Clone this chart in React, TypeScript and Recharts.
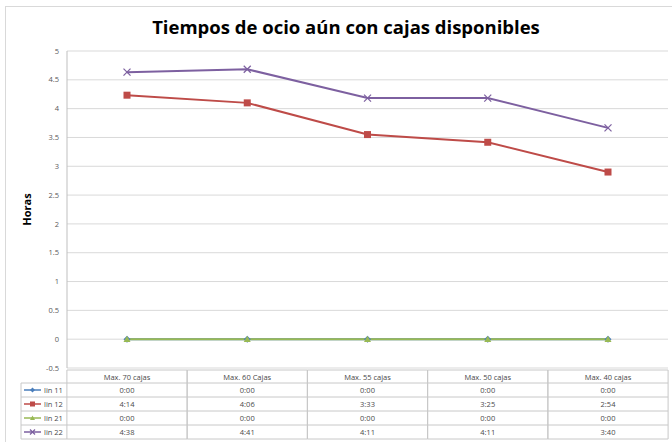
import React from "react";
import { CartesianGrid, Line, LineChart, XAxis, YAxis } from "recharts";

// Tiempos de ocio por escenario (h:mm), tal como aparecen en la tabla
const categories = ["Max. 70 cajas", "Max. 60 Cajas", "Max. 55 cajas", "Max. 50 cajas", "Max. 40 cajas"];
const lin11 = ["0:00", "0:00", "0:00", "0:00", "0:00"];
const lin12 = ["4:14", "4:06", "3:33", "3:25", "2:54"];
const lin21 = ["0:00", "0:00", "0:00", "0:00", "0:00"];
const lin22 = ["4:38", "4:41", "4:11", "4:11", "3:40"];
const yTicks = [-0.5, 0, 0.5, 1, 1.5, 2, 2.5, 3, 3.5, 4, 4.5, 5];

const FONT = "'Open Sans', 'DejaVu Sans', sans-serif";
const TXT = "#4a4a4a";

const toHours = (t: string) => {
  const [h, m] = t.split(":").map(Number);
  return h + m / 60;
};

type Marker = "diamond" | "square" | "triangle" | "x";

const series: { key: string; label: string; color: string; marker: Marker; times: string[] }[] = [
  { key: "lin11", label: "lin 11", color: "#4a7ebb", marker: "diamond", times: lin11 },
  { key: "lin12", label: "lin 12", color: "#be4b48", marker: "square", times: lin12 },
  { key: "lin21", label: "lin 21", color: "#98b954", marker: "triangle", times: lin21 },
  { key: "lin22", label: "lin 22", color: "#7d60a0", marker: "x", times: lin22 },
];

const data = categories.map((cat, i) => {
  const row: Record<string, string | number> = { cat };
  series.forEach((s) => (row[s.key] = toHours(s.times[i])));
  return row;
});

function MarkerShape({ cx, cy, color, marker, r = 3.5 }: { cx: number; cy: number; color: string; marker: Marker; r?: number }) {
  if (cx == null || cy == null) return null;
  if (marker === "square") return <rect x={cx - r} y={cy - r} width={r * 2} height={r * 2} fill={color} />;
  if (marker === "diamond")
    return <polygon points={`${cx},${cy - r} ${cx + r},${cy} ${cx},${cy + r} ${cx - r},${cy}`} fill={color} />;
  if (marker === "triangle")
    return <polygon points={`${cx},${cy - r} ${cx + r},${cy + r * 0.8} ${cx - r},${cy + r * 0.8}`} fill={color} />;
  return (
    <g stroke={color} strokeWidth={1.2}>
      <line x1={cx - r} y1={cy - r} x2={cx + r} y2={cy + r} />
      <line x1={cx - r} y1={cy + r} x2={cx + r} y2={cy - r} />
    </g>
  );
}

const GRID = "#c8c8c8";
const ROW_LINES = [0, 13, 27, 41, 55, 69];

function TableTick(props: any) {
  const { x, y, payload, index } = props;
  const half = 60.1;
  const left = x - half;
  const right = x + half;
  return (
    <g fontFamily={FONT} fontSize={7.5}>
      {ROW_LINES.map((d) => (
        <line key={d} x1={left} x2={right} y1={y + d} y2={y + d} stroke={GRID} />
      ))}
      <line x1={left} x2={left} y1={y} y2={y + 69} stroke={GRID} />
      <line x1={right} x2={right} y1={y} y2={y + 69} stroke={GRID} />
      <text x={x} y={y + 9.5} textAnchor="middle" fill={TXT} stroke="none">
        {payload.value}
      </text>
      {series.map((s, r) => (
        <text key={s.key} x={x} y={y + 23 + r * 14} textAnchor="middle" fill={TXT} stroke="none">
          {s.times[index]}
        </text>
      ))}
      {index === 0 && (
        <g>
          {ROW_LINES.slice(1).map((d) => (
            <line key={d} x1={21} x2={left} y1={y + d} y2={y + d} stroke={GRID} />
          ))}
          <line x1={21} x2={21} y1={y + 13} y2={y + 69} stroke={GRID} />
          {series.map((s, r) => {
            const cy = y + 20 + r * 14;
            return (
              <g key={s.key}>
                <line x1={24} x2={41} y1={cy} y2={cy} stroke={s.color} strokeWidth={1.5} />
                <MarkerShape cx={32.5} cy={cy} color={s.color} marker={s.marker} r={2.5} />
                <text x={44} y={cy + 3} fill={TXT} stroke="none">
                  {s.label}
                </text>
              </g>
            );
          })}
        </g>
      )}
    </g>
  );
}

export default function App() {
  return (
    <div style={{ position: "absolute", left: 0, top: 0, width: 672, height: 442, background: "#fff", overflow: "hidden" }}>
      <div
        style={{
          position: "absolute",
          left: 5,
          top: 6,
          width: 700,
          height: 460,
          borderLeft: "1px solid #d9d9d9",
          borderTop: "1px solid #d9d9d9",
        }}
      />
      <div
        style={{
          position: "absolute",
          left: 20,
          top: 14,
          width: 652,
          textAlign: "center",
          fontFamily: FONT,
          fontWeight: 700,
          fontSize: 18.5,
          color: "#000",
        }}
      >
        Tiempos de ocio aún con cajas disponibles
      </div>
      <LineChart width={672} height={442} data={data} margin={{ top: 51, right: 4, bottom: 0, left: 0 }}>
        <CartesianGrid vertical={false} stroke="#d9d9d9" />
        <XAxis
          dataKey="cat"
          padding={{ left: 60, right: 60 }}
          axisLine={false}
          tickLine={false}
          tickSize={0}
          height={74}
          interval={0}
          tick={(p: any) => <TableTick {...p} />}
        />
        <YAxis
          domain={[-0.5, 5]}
          ticks={yTicks}
          width={67}
          tickLine={false}
          tickSize={0}
          tickMargin={8}
          axisLine={{ stroke: "#bfbfbf" }}
          tick={{ fontSize: 7.5, fill: "#595959", fontFamily: FONT }}
          label={(p: any) => {
            const vb = p.viewBox;
            const cy = vb.y + vb.height / 2;
            return (
              <text
                x={31}
                y={cy}
                transform={`rotate(-90 31 ${cy})`}
                textAnchor="middle"
                fontFamily={FONT}
                fontWeight={700}
                fontSize={11}
                fill="#000"
              >
                Horas
              </text>
            );
          }}
        />
        {series.map((s) => (
          <Line
            key={s.key}
            dataKey={s.key}
            type="linear"
            stroke={s.color}
            strokeWidth={2}
            isAnimationActive={false}
            dot={(p: any) => <MarkerShape key={`${s.key}-${p.index}`} cx={p.cx} cy={p.cy} color={s.color} marker={s.marker} />}
            activeDot={false}
          />
        ))}
      </LineChart>
    </div>
  );
}
